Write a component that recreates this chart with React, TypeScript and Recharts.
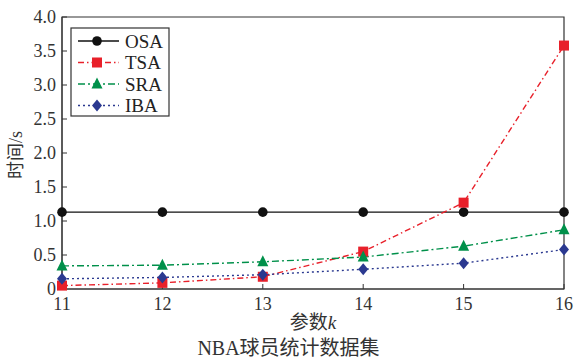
import React from "react";
import { LineChart, Line, XAxis, YAxis, ReferenceArea } from "recharts";

const ks = [11, 12, 13, 14, 15, 16];
const osa = [1.13, 1.13, 1.13, 1.13, 1.13, 1.13];
const tsa = [0.05, 0.09, 0.18, 0.55, 1.27, 3.58];
const sra = [0.34, 0.35, 0.4, 0.47, 0.63, 0.87];
const iba = [0.15, 0.17, 0.21, 0.29, 0.38, 0.58];
const yTicks = [0, 0.5, 1, 1.5, 2, 2.5, 3, 3.5, 4];

const data = ks.map((k, i) => ({ k, osa: osa[i], tsa: tsa[i], sra: sra[i], iba: iba[i] }));

const serif = "'Liberation Serif', 'DejaVu Serif', serif";
const cjk = "'Noto Sans CJK SC', sans-serif";
const axisColor = "#333";

const series = [
  { key: "osa", name: "OSA", color: "#111111", dash: undefined, marker: "circle" },
  { key: "tsa", name: "TSA", color: "#e8202a", dash: "6 3 1.5 3", marker: "square" },
  { key: "sra", name: "SRA", color: "#00904a", dash: "7 3 2 3", marker: "triangle" },
  { key: "iba", name: "IBA", color: "#2b3990", dash: "2 3", marker: "diamond" },
];

function Marker({ cx, cy, type, color }: { cx: number; cy: number; type: string; color: string }) {
  if (type === "circle") return <circle cx={cx} cy={cy} r={4.8} fill={color} />;
  if (type === "square") return <rect x={cx - 5} y={cy - 5} width={10} height={10} fill={color} />;
  if (type === "triangle")
    return <polygon points={`${cx},${cy - 6.5} ${cx + 5.5},${cy + 4.5} ${cx - 5.5},${cy + 4.5}`} fill={color} />;
  return <polygon points={`${cx},${cy - 6} ${cx + 5},${cy} ${cx},${cy + 6} ${cx - 5},${cy}`} fill={color} />;
}

function LegendBox() {
  return (
    <svg width={100} height={90} style={{ position: "absolute", left: 70, top: 27 }}>
      <rect x={1} y={1} width={98} height={88} fill="#fff" stroke={axisColor} strokeWidth={1.2} />
      {series.map((s, i) => {
        const y = 14 + i * 21.5;
        return (
          <g key={s.key}>
            <line x1={8} x2={49} y1={y} y2={y} stroke={s.color} strokeWidth={1.5} strokeDasharray={s.dash} />
            <Marker cx={27} cy={y} type={s.marker} color={s.color} />
            <text x={55} y={y + 6.5} fontSize={19} fontFamily={serif} fill="#222">
              {s.name}
            </text>
          </g>
        );
      })}
    </svg>
  );
}

export default function App() {
  return (
    <div style={{ position: "absolute", left: 0, top: 0, width: 577, height: 360, background: "#fff" }}>
      <LineChart width={577} height={360} data={data} margin={{ top: 17, right: 13, left: 0, bottom: 0 }}>
        <XAxis
          dataKey="k"
          type="number"
          domain={[11, 16]}
          ticks={ks}
          height={71}
          stroke={axisColor}
          tickSize={-5}
          tickMargin={13}
          tick={{ fontSize: 18, fontFamily: serif, fill: "#333" }}
          label={{
            content: () => (
              <text x={313} y={329} textAnchor="middle" fontSize={19} fill="#333">
                <tspan fontFamily={cjk}>参数</tspan>
                <tspan fontFamily={serif} fontStyle="italic">k</tspan>
              </text>
            ),
          }}
        />
        <YAxis
          type="number"
          domain={[0, 4]}
          ticks={yTicks}
          width={62}
          stroke={axisColor}
          tickSize={-5}
          tickMargin={11}
          tickFormatter={(v: number) => (v === 0 ? "0" : v.toFixed(1))}
          tick={{ fontSize: 18, fontFamily: serif, fill: "#333" }}
          label={{
            content: () => (
              <text x={22} y={155} transform="rotate(-90 22 155)" textAnchor="middle" fontSize={18} fill="#333">
                <tspan fontFamily={cjk}>时间</tspan>
                <tspan fontFamily={serif}>/s</tspan>
              </text>
            ),
          }}
        />
        <ReferenceArea x1={11} x2={16} y1={0} y2={4} fill="none" stroke={axisColor} strokeWidth={1.2} />
        {series.map((s) => (
          <Line
            key={s.key}
            dataKey={s.key}
            name={s.name}
            stroke={s.color}
            strokeWidth={1.4}
            strokeDasharray={s.dash}
            isAnimationActive={false}
            dot={(p: any) => <Marker key={`${s.key}-${p.index}`} cx={p.cx} cy={p.cy} type={s.marker} color={s.color} />}
            activeDot={false}
          />
        ))}
      </LineChart>
      <LegendBox />
      <div
        style={{
          position: "absolute",
          left: 0,
          width: 577,
          top: 335,
          textAlign: "center",
          fontSize: 20,
          color: "#333",
          lineHeight: "24px",
        }}
      >
        <span style={{ fontFamily: serif }}>NBA</span>
        <span style={{ fontFamily: cjk }}>球员统计数据集</span>
      </div>
    </div>
  );
}
